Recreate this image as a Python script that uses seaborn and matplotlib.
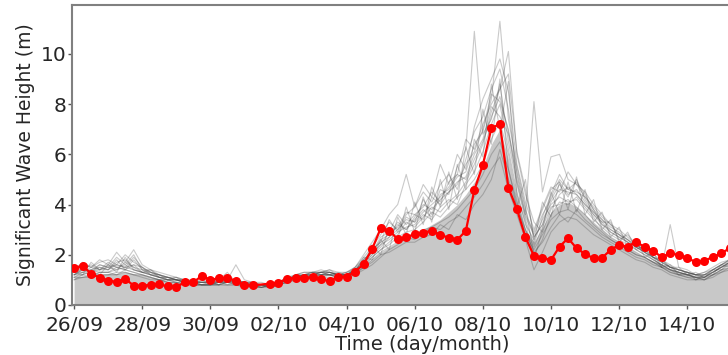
import numpy as np
import pandas as pd
import matplotlib
matplotlib.use("Agg")
import matplotlib.pyplot as plt
import matplotlib.dates as mdates
import seaborn as sns

# 6-hourly time steps, 26/09 00h -> 15/10 06h
start = "2019-09-26 00:00"
n_steps = 78

# observed Hs (red), one gap on 01/10 12h
obs = [1.46, 1.57, 1.24, 1.09, 0.97, 0.92, 1.04, 0.77, 0.76, 0.81, 0.82, 0.74,
       0.72, 0.90, 0.90, 1.16, 1.00, 1.06, 1.06, 0.97, 0.78, 0.78, np.nan, 0.85,
       0.89, 1.04, 1.09, 1.09, 1.10, 1.04, 0.94, 1.13, 1.13, 1.33, 1.62, 2.23,
       3.05, 2.96, 2.62, 2.70, 2.82, 2.88, 2.96, 2.79, 2.68, 2.60, 2.95, 4.58,
       5.58, 7.04, 7.21, 4.67, 3.81, 2.70, 1.95, 1.88, 1.79, 2.32, 2.66, 2.26,
       2.03, 1.86, 1.88, 2.19, 2.39, 2.32, 2.52, 2.30, 2.16, 1.90, 2.06, 1.99,
       1.88, 1.70, 1.77, 1.90, 2.06, 2.26]

# shaded area (ensemble central value)
shade = [1.10, 1.15, 1.15, 1.20, 1.25, 1.25, 1.30, 1.25, 1.20, 1.10, 1.05, 0.95,
         0.90, 0.85, 0.82, 0.82, 0.80, 0.80, 0.82, 0.82, 0.80, 0.78, 0.75, 0.78,
         0.87, 0.97, 1.05, 1.10, 1.13, 1.15, 1.15, 1.12, 1.18, 1.30, 1.55, 1.85,
         2.10, 2.30, 2.50, 2.70, 2.80, 3.00, 3.20, 3.40, 3.70, 4.00, 4.40, 4.90,
         5.50, 6.40, 7.00, 5.80, 4.20, 3.00, 2.50, 3.10, 3.70, 4.00, 4.10, 3.90,
         3.60, 3.30, 3.00, 2.70, 2.50, 2.30, 2.10, 1.90, 1.75, 1.60, 1.45, 1.35,
         1.25, 1.15, 1.10, 1.25, 1.45, 1.50]

# ensemble members (grey lines)
members = [
    [1.2, 1.3, 1.4, 1.5, 1.4, 1.6, 1.5, 1.4, 1.3, 1.2, 1.1, 1.0, 1.0, 0.9, 0.9, 0.9,
     0.9, 0.9, 0.9, 1.0, 0.9, 0.8, 0.8, 0.8, 0.9, 1.0, 1.1, 1.2, 1.2, 1.2, 1.3, 1.2,
     1.2, 1.4, 1.7, 2.1, 2.4, 2.6, 2.9, 3.1, 3.2, 3.6, 3.4, 3.9, 4.2, 4.0, 4.8, 5.3,
     6.1, 7.2, 8.0, 6.2, 4.5, 3.2, 2.6, 3.4, 4.0, 4.3, 4.1, 4.2, 3.8, 3.4, 3.1, 2.8,
     2.6, 2.4, 2.2, 2.0, 1.8, 1.6, 1.5, 1.4, 1.3, 1.2, 1.2, 1.4, 1.6, 1.7],
    [1.4, 1.6, 1.5, 1.7, 1.8, 1.6, 2.0, 1.7, 1.5, 1.3, 1.2, 1.1, 1.0, 1.0, 0.9, 0.9,
     1.0, 0.9, 1.0, 0.9, 0.9, 0.9, 0.8, 0.8, 0.9, 1.1, 1.2, 1.2, 1.3, 1.3, 1.3, 1.2,
     1.2, 1.5, 1.9, 2.3, 2.8, 3.3, 3.0, 3.6, 3.9, 4.5, 4.1, 4.8, 5.2, 4.6, 5.8, 6.9,
     7.5, 8.6, 9.4, 7.8, 5.2, 3.6, 2.9, 3.8, 4.6, 4.9, 4.4, 4.6, 4.1, 3.6, 3.3, 2.9,
     2.7, 2.5, 2.3, 2.1, 1.9, 1.7, 1.5, 1.4, 1.3, 1.2, 1.3, 1.5, 1.7, 1.8],
    [1.1, 1.1, 1.2, 1.2, 1.2, 1.3, 1.3, 1.2, 1.2, 1.1, 1.0, 0.9, 0.9, 0.8, 0.8, 0.8,
     0.8, 0.8, 0.8, 0.8, 0.8, 0.8, 0.7, 0.8, 0.9, 1.0, 1.1, 1.1, 1.2, 1.2, 1.2, 1.1,
     1.2, 1.3, 1.5, 1.8, 2.1, 2.3, 2.5, 2.6, 2.8, 3.0, 3.1, 3.3, 3.5, 3.8, 4.2, 4.6,
     5.2, 6.0, 6.5, 5.4, 4.1, 2.8, 2.2, 2.8, 3.4, 3.7, 3.8, 3.6, 3.3, 3.0, 2.7, 2.5,
     2.3, 2.1, 1.9, 1.8, 1.6, 1.5, 1.3, 1.2, 1.1, 1.1, 1.0, 1.2, 1.4, 1.5],
    [1.3, 1.5, 1.3, 1.6, 1.5, 1.9, 1.6, 2.0, 1.4, 1.4, 1.2, 1.1, 1.1, 1.0, 0.9, 1.0,
     0.9, 1.0, 1.3, 0.9, 0.9, 0.8, 0.8, 0.8, 0.9, 1.0, 1.2, 1.3, 1.3, 1.3, 1.4, 1.2,
     1.3, 1.4, 1.8, 2.2, 2.5, 3.4, 2.9, 3.5, 3.3, 4.2, 3.6, 4.6, 4.4, 5.5, 6.2, 10.9,
     6.8, 7.4, 8.8, 6.5, 4.8, 3.4, 2.4, 3.5, 4.4, 5.2, 4.6, 4.9, 4.4, 3.8, 3.2, 3.0,
     2.8, 2.6, 2.4, 2.1, 1.9, 1.5, 3.2, 1.5, 1.4, 1.2, 1.1, 1.3, 1.5, 1.7],
    [1.2, 1.2, 1.3, 1.4, 1.5, 1.4, 1.7, 1.5, 1.3, 1.2, 1.1, 1.1, 1.0, 0.9, 0.9, 0.8,
     0.9, 0.8, 0.9, 0.9, 0.9, 0.9, 0.8, 0.7, 0.8, 1.0, 1.1, 1.2, 1.2, 1.3, 1.2, 1.2,
     1.2, 1.4, 1.6, 2.0, 2.3, 2.7, 3.2, 3.0, 3.4, 3.8, 3.5, 4.4, 4.6, 5.1, 5.3, 6.4,
     6.9, 8.2, 11.3, 7.4, 5.5, 3.9, 2.0, 2.6, 3.6, 4.1, 4.0, 4.3, 3.9, 3.5, 3.0, 2.7,
     2.5, 2.3, 2.1, 1.9, 1.7, 1.6, 1.4, 1.3, 1.2, 1.1, 1.1, 1.3, 1.5, 1.6],
    [1.3, 1.4, 1.6, 1.4, 1.6, 1.5, 1.4, 1.8, 1.4, 1.3, 1.1, 1.0, 1.0, 1.0, 0.9, 0.9,
     0.8, 0.9, 0.9, 1.0, 0.9, 0.8, 0.8, 0.8, 0.9, 1.1, 1.1, 1.2, 1.2, 1.3, 1.3, 1.2,
     1.1, 1.3, 1.6, 1.9, 2.2, 2.5, 2.8, 3.3, 3.1, 3.5, 3.9, 3.7, 4.1, 4.4, 4.9, 5.6,
     6.4, 7.7, 8.6, 10.1, 6.0, 4.4, 3.3, 2.9, 3.8, 4.4, 4.7, 4.4, 4.0, 3.7, 3.4, 3.1,
     2.9, 2.6, 2.3, 2.1, 1.8, 1.6, 1.4, 1.3, 1.2, 1.1, 1.2, 1.4, 1.6, 1.8],
    [1.1, 1.2, 1.4, 1.3, 1.3, 1.5, 1.4, 1.3, 1.2, 1.1, 1.0, 1.0, 0.9, 0.9, 0.8, 0.8,
     0.8, 0.8, 0.9, 0.8, 0.8, 0.7, 0.8, 0.8, 0.9, 1.0, 1.0, 1.1, 1.1, 1.2, 1.2, 1.1,
     1.2, 1.3, 1.7, 2.0, 2.4, 2.9, 3.6, 3.2, 3.6, 3.4, 4.3, 4.0, 4.5, 4.9, 5.1, 6.0,
     6.6, 7.9, 7.5, 6.8, 5.0, 3.6, 8.1, 4.5, 5.9, 6.0, 5.0, 4.8, 4.3, 3.9, 3.5, 3.2,
     2.8, 2.6, 2.3, 2.1, 1.9, 1.7, 1.5, 1.4, 1.3, 1.2, 1.3, 1.4, 1.6, 1.8],
    [1.0, 1.1, 1.1, 1.2, 1.2, 1.2, 1.3, 1.2, 1.1, 1.0, 1.0, 0.9, 0.9, 0.8, 0.8, 0.8,
     0.8, 0.8, 0.8, 0.8, 0.7, 0.7, 0.7, 0.8, 0.8, 0.9, 1.0, 1.1, 1.1, 1.1, 1.2, 1.1,
     1.1, 1.2, 1.4, 1.6, 1.9, 2.2, 2.4, 2.7, 2.6, 2.9, 3.1, 3.0, 3.3, 3.5, 3.9, 4.3,
     4.8, 5.4, 5.9, 4.6, 3.6, 2.6, 1.4, 2.1, 2.9, 3.3, 3.5, 3.4, 3.1, 2.8, 2.6, 2.4,
     2.2, 2.0, 1.8, 1.7, 1.5, 1.4, 1.2, 1.1, 1.0, 1.0, 1.0, 1.1, 1.3, 1.4],
    [1.4, 1.7, 1.5, 1.8, 1.6, 2.1, 1.7, 2.2, 1.6, 1.4, 1.3, 1.2, 1.1, 1.0, 1.0, 0.9,
     0.9, 1.0, 1.0, 1.6, 1.0, 0.9, 0.9, 0.8, 0.9, 1.0, 1.2, 1.2, 1.3, 1.4, 1.3, 1.2,
     1.3, 1.5, 2.0, 2.5, 3.0, 3.6, 4.0, 5.2, 3.9, 4.8, 4.3, 5.6, 4.8, 6.0, 5.4, 7.1,
     8.2, 9.0, 9.8, 8.5, 5.6, 4.1, 3.0, 3.9, 4.7, 4.5, 5.3, 4.8, 4.5, 4.0, 3.6, 3.2,
     3.0, 2.7, 2.4, 2.2, 2.0, 1.8, 1.6, 1.4, 1.3, 1.2, 1.1, 1.3, 1.5, 1.7],
    [1.2, 1.4, 1.3, 1.5, 1.4, 1.7, 1.8, 1.5, 1.4, 1.2, 1.1, 1.1, 1.0, 0.9, 0.9, 0.9,
     0.9, 0.9, 1.0, 0.9, 0.8, 0.8, 0.8, 0.7, 0.8, 1.0, 1.1, 1.1, 1.2, 1.2, 1.3, 1.2,
     1.2, 1.3, 1.5, 1.9, 2.2, 2.4, 2.7, 2.9, 3.0, 3.3, 3.7, 3.5, 3.9, 4.3, 4.6, 5.0,
     5.6, 6.6, 7.3, 6.0, 4.3, 3.0, 2.3, 3.1, 3.9, 4.0, 4.2, 3.9, 3.6, 3.2, 2.9, 2.6,
     2.4, 2.2, 2.0, 1.9, 1.7, 1.5, 1.3, 1.2, 1.2, 1.1, 1.0, 1.2, 1.4, 1.6],
    [1.3, 1.3, 1.5, 1.4, 1.7, 1.5, 1.6, 1.4, 1.3, 1.3, 1.2, 1.1, 1.0, 0.9, 0.9, 0.8,
     0.8, 0.9, 0.9, 0.9, 0.8, 0.8, 0.8, 0.8, 0.9, 1.0, 1.1, 1.2, 1.3, 1.2, 1.2, 1.2,
     1.2, 1.4, 1.8, 2.1, 2.6, 2.8, 3.3, 3.0, 3.5, 4.0, 3.8, 4.2, 4.5, 4.8, 5.6, 6.1,
     7.0, 8.4, 8.1, 7.0, 4.9, 3.5, 2.8, 3.6, 4.2, 4.8, 4.3, 5.0, 4.2, 3.7, 3.3, 3.3,
     2.6, 2.8, 2.4, 2.2, 1.9, 1.7, 1.5, 1.3, 1.2, 1.2, 1.2, 1.3, 1.5, 1.7],
    [1.1, 1.3, 1.2, 1.3, 1.3, 1.4, 1.5, 1.6, 1.3, 1.2, 1.1, 1.0, 1.0, 0.9, 0.9, 0.8,
     0.8, 0.9, 0.8, 0.9, 0.8, 0.8, 0.7, 0.7, 0.8, 1.0, 1.1, 1.2, 1.2, 1.3, 1.2, 1.2,
     1.2, 1.4, 1.7, 2.2, 2.5, 2.7, 3.0, 3.4, 3.3, 3.7, 4.0, 4.3, 4.7, 5.2, 5.0, 5.8,
     6.5, 7.5, 8.3, 6.9, 5.3, 3.8, 2.7, 3.2, 4.1, 4.6, 4.5, 4.4, 4.0, 3.6, 3.2, 2.9,
     2.7, 2.5, 2.2, 2.0, 1.8, 1.6, 1.4, 1.3, 1.2, 1.1, 1.1, 1.3, 1.5, 1.7],
    [1.2, 1.5, 1.3, 1.2, 1.6, 1.3, 1.9, 1.4, 1.3, 1.4, 1.1, 1.0, 1.1, 0.9, 0.9, 0.8,
     0.8, 1.0, 0.9, 0.8, 0.8, 0.8, 0.7, 0.8, 0.9, 1.0, 1.1, 1.2, 1.2, 1.3, 1.3, 1.2,
     1.2, 1.3, 1.9, 1.8, 2.6, 2.2, 3.5, 2.8, 4.1, 3.2, 4.7, 3.9, 5.3, 4.2, 6.3, 5.2,
     7.8, 6.4, 9.0, 5.4, 3.9, 5.0, 2.5, 4.1, 3.5, 4.9, 3.8, 5.1, 3.6, 4.2, 3.0, 3.4,
     2.5, 2.9, 2.2, 2.4, 1.9, 1.8, 1.5, 1.5, 1.2, 1.3, 1.1, 1.4, 1.4, 1.7],
    [1.3, 1.2, 1.7, 1.4, 1.4, 1.8, 1.4, 1.6, 1.5, 1.2, 1.2, 1.0, 1.0, 0.9, 1.0, 0.9,
     0.9, 0.8, 1.1, 0.9, 0.9, 0.8, 0.8, 0.7, 0.8, 0.9, 1.1, 1.1, 1.2, 1.2, 1.2, 1.3,
     1.2, 1.4, 1.6, 2.4, 2.0, 3.1, 2.6, 3.9, 2.9, 4.3, 3.3, 5.0, 3.8, 5.6, 4.6, 6.6,
     5.9, 8.8, 7.0, 8.9, 4.4, 3.3, 1.8, 3.0, 4.5, 3.6, 4.9, 3.7, 4.6, 3.3, 3.7, 2.7,
     3.1, 2.3, 2.6, 1.9, 2.1, 1.5, 1.6, 1.2, 1.3, 1.0, 1.2, 1.2, 1.6, 1.5],
    [1.0, 1.2, 1.1, 1.3, 1.3, 1.2, 1.4, 1.3, 1.2, 1.1, 1.0, 1.0, 0.9, 0.9, 0.8, 0.8,
     0.8, 0.8, 0.9, 0.9, 0.8, 0.7, 0.7, 0.8, 0.8, 0.9, 1.0, 1.1, 1.1, 1.2, 1.2, 1.1,
     1.1, 1.2, 1.5, 1.7, 2.0, 2.1, 2.3, 2.5, 2.5, 2.7, 2.8, 3.2, 3.0, 3.6, 3.4, 4.0,
     4.4, 5.0, 6.2, 5.0, 3.9, 3.0, 2.1, 2.5, 3.1, 3.6, 3.3, 3.8, 3.4, 3.1, 2.8, 2.6,
     2.4, 2.2, 2.0, 1.9, 1.7, 1.5, 1.4, 1.2, 1.1, 1.0, 1.1, 1.2, 1.3, 1.5],
    [1.2, 1.4, 1.4, 1.6, 1.5, 1.6, 1.5, 1.9, 1.5, 1.3, 1.2, 1.1, 1.0, 1.0, 0.9, 0.9,
     0.9, 0.9, 0.9, 1.0, 0.9, 0.9, 0.8, 0.8, 0.9, 1.0, 1.2, 1.3, 1.3, 1.3, 1.4, 1.3,
     1.3, 1.5, 1.8, 2.1, 2.7, 2.9, 3.1, 3.7, 3.6, 3.9, 4.5, 4.1, 4.9, 5.2, 6.6, 6.2,
     7.2, 8.0, 8.6, 9.2, 6.1, 4.6, 2.7, 3.2, 4.3, 5.0, 4.6, 4.5, 4.3, 3.8, 3.4, 3.0,
     2.8, 2.5, 2.3, 2.2, 1.9, 1.8, 1.5, 1.4, 1.3, 1.2, 1.2, 1.4, 1.6, 1.8],
]

time = pd.date_range(start, periods=n_steps, freq="6h")
tick_dates = pd.date_range("2019-09-26", periods=10, freq="2D")

df_obs = pd.DataFrame({"time": time, "hs": obs})
df_ens = pd.concat(
    [pd.DataFrame({"time": time, "hs": m, "member": i}) for i, m in enumerate(members)],
    ignore_index=True)

sns.set_theme(style="ticks")
plt.rcParams["font.family"] = ["DejaVu Sans"]

fig = plt.figure(figsize=(7.28, 3.55), dpi=100)
# axes runs past the right edge of the figure, as in the cropped original
ax = fig.add_axes([0.099, 0.141, 0.962, 0.845])

ax.fill_between(time, 0, shade, color="#c8c8c8", linewidth=0, zorder=1)
sns.lineplot(data=df_ens, x="time", y="hs", units="member", estimator=None,
             color="#404040", alpha=0.28, linewidth=0.8, ax=ax, zorder=2,
             legend=False)
sns.lineplot(data=df_obs, x="time", y="hs", color="red", linewidth=1.6,
             marker="o", markersize=6.5, markeredgewidth=0, ax=ax, zorder=3)

ax.set_xlim(pd.Timestamp("2019-09-25 22:35"), pd.Timestamp("2019-10-16 12:00"))
ax.set_ylim(0, 11.95)
ax.set_yticks([0, 2, 4, 6, 8, 10])
ax.set_xticks(tick_dates)
ax.xaxis.set_major_formatter(mdates.DateFormatter("%d/%m"))

ax.set_xlabel("Time (day/month)", fontsize=14, labelpad=0)
ax.set_ylabel("Significant Wave Height (m)", fontsize=13.5, labelpad=4)
ax.tick_params(axis="both", labelsize=14.5, length=3, width=1, color="#555555")
ax.tick_params(axis="x", pad=5)
ax.tick_params(axis="y", pad=1)
for sp in ax.spines.values():
    sp.set_color("#808080")
    sp.set_linewidth(1.5)

fig.savefig("out.png", dpi=100)
